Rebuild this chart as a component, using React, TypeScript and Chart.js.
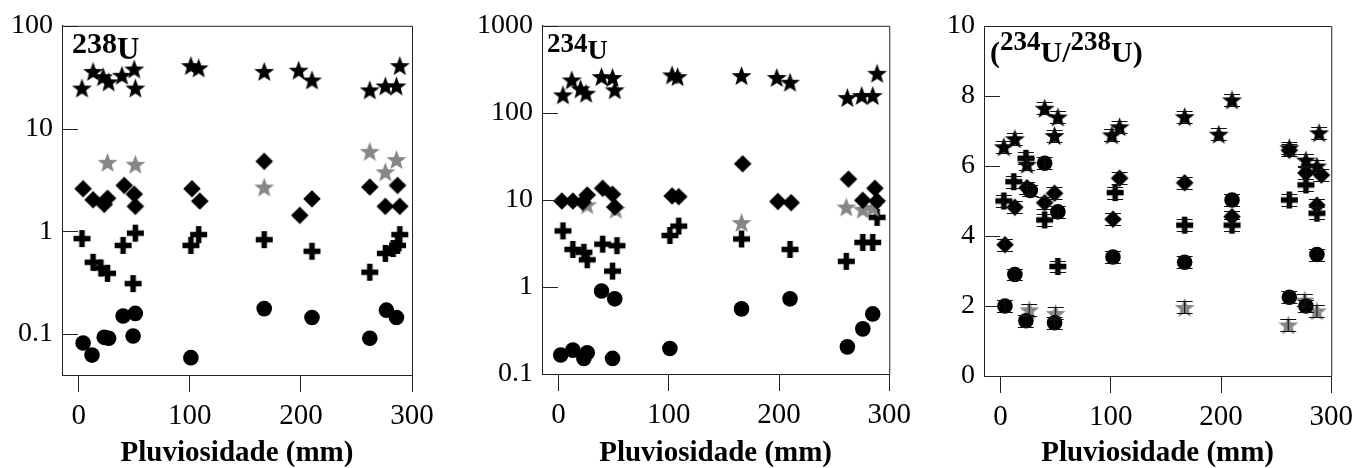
import React, { useEffect, useRef } from 'react';
import { Chart, registerables } from 'chart.js';
Chart.register(...registerables);

const FONT = '"Liberation Serif", "Times New Roman", Times, serif';
const H = 468;

// ---------- ticks ----------
const rainTicks = [0, 100, 200, 300];
const u238Ticks = [0.1, 1, 10, 100];
const u234Ticks = [0.1, 1, 10, 100, 1000];
const ratioTicks = [0, 2, 4, 6, 8, 10];
const xTitle = 'Pluviosidade (mm)';

// ---------- 238U ----------
const u238StarBlackX = [3, 13, 22, 27, 39, 50, 51, 101, 108, 167, 198, 210, 262, 276, 286, 289];
const u238StarBlackY = [24.8, 36, 32, 28.5, 33, 38, 24.8, 41, 39, 36, 37, 29.7, 23.8, 26, 26, 41];
const u238StarGrayX = [26, 51, 167, 262, 276, 286];
const u238StarGrayY = [4.7, 4.5, 2.7, 6.0, 3.8, 5.0];
const u238DiamondX = [4, 13, 23, 26, 41, 50, 51, 102, 109, 167, 199, 210, 262, 276, 287, 289];
const u238DiamondY = [2.6, 2.03, 1.83, 2.1, 2.8, 2.3, 1.75, 2.6, 1.97, 4.8, 1.43, 2.07, 2.7, 1.75, 2.8, 1.75];
const u238PlusX = [3, 13, 20, 26, 40, 49, 51, 101, 108, 167, 210, 262, 276, 283, 287, 289];
const u238PlusY = [0.85, 0.5, 0.44, 0.39, 0.73, 0.31, 0.96, 0.73, 0.93, 0.83, 0.64, 0.4, 0.61, 0.68, 0.73, 0.93];
const u238CircleX = [4, 12, 23, 27, 40, 49, 51, 101, 167, 210, 262, 277, 286];
const u238CircleY = [0.082, 0.0625, 0.093, 0.091, 0.15, 0.096, 0.159, 0.059, 0.177, 0.145, 0.091, 0.171, 0.145];

// ---------- 234U ----------
const u234StarBlackX = [4, 12, 20, 25, 39, 49, 51, 103, 108, 166, 198, 210, 262, 275, 285, 289];
const u234StarBlackY = [161, 239, 189, 168, 261, 255, 184, 273, 261, 268, 255, 225, 150, 158, 158, 285];
const u234StarGrayX = [26, 52, 166, 261, 276, 285];
const u234StarGrayY = [8.8, 7.8, 5.5, 8.3, 7.8, 8.2];
const u234DiamondX = [3, 13, 22, 26, 40, 49, 51, 103, 109, 167, 199, 211, 263, 276, 287, 289];
const u234DiamondY = [9.7, 9.7, 9.4, 11.4, 13.6, 11.6, 8.3, 11.1, 10.9, 26, 9.6, 9.3, 17.3, 9.9, 13.6, 9.7];
const u234PlusX = [4, 13, 23, 26, 40, 49, 53, 101, 109, 166, 210, 261, 276, 285, 289];
const u234PlusY = [4.4, 2.7, 2.5, 2.05, 3.1, 1.52, 2.98, 3.9, 5.0, 3.56, 2.7, 1.97, 3.25, 3.25, 6.3];
const u234CircleX = [2, 13, 23, 26, 39, 49, 51, 101, 166, 210, 262, 276, 285];
const u234CircleY = [0.165, 0.188, 0.151, 0.175, 0.9, 0.151, 0.73, 0.196, 0.56, 0.73, 0.205, 0.33, 0.49];

// ---------- (234U/238U) ----------
const ratioStarBlackX = [3, 13, 24, 40, 49, 52, 101, 108, 167, 198, 210, 262, 277, 287, 289];
const ratioStarBlackY = [6.55, 6.78, 6.05, 7.65, 6.87, 7.4, 6.89, 7.12, 7.41, 6.91, 7.89, 6.52, 6.17, 6.0, 6.95];
const ratioStarGrayX = [26, 50, 167, 261, 276, 287];
const ratioStarGrayY = [1.89, 1.79, 1.96, 1.46, 2.17, 1.86];
const ratioDiamondX = [4, 13, 24, 40, 49, 102, 108, 167, 210, 262, 277, 287, 291];
const ratioDiamondY = [3.75, 4.82, 5.38, 4.95, 5.22, 4.48, 5.65, 5.52, 4.55, 6.45, 5.8, 4.88, 5.74];
const ratioPlusX = [3, 12, 23, 40, 52, 104, 167, 210, 262, 277, 287];
const ratioPlusY = [5.0, 5.55, 6.22, 4.46, 3.13, 5.24, 4.31, 4.31, 5.03, 5.46, 4.65];
const ratioCircleX = [4, 13, 23, 27, 40, 49, 52, 102, 167, 210, 262, 277, 287];
const ratioCircleY = [2.0, 2.9, 1.58, 5.3, 6.08, 1.52, 4.69, 3.4, 3.25, 5.03, 2.25, 2.0, 3.47];
const ratioErr = 0.17;

// ---------- marker images ----------
type Kind = 'starBlack' | 'starGray' | 'diamond' | 'plus' | 'circle';

function makeStar(color: string, R: number, r: number) {
  const s = Math.ceil(R * 2) + 4;
  const c = document.createElement('canvas');
  c.width = s; c.height = s;
  const ctx = c.getContext('2d')!;
  ctx.fillStyle = color;
  ctx.beginPath();
  const cy = s / 2 + 0.095 * R;
  for (let i = 0; i < 10; i++) {
    const ang = -Math.PI / 2 + (i * Math.PI) / 5;
    const rad = i % 2 === 0 ? R : r;
    const px = s / 2 + rad * Math.cos(ang);
    const py = cy + rad * Math.sin(ang);
    if (i === 0) ctx.moveTo(px, py); else ctx.lineTo(px, py);
  }
  ctx.closePath();
  ctx.fill();
  return c;
}
function makeDiamond(h: number) {
  const s = Math.ceil(h * 2) + 2;
  const c = document.createElement('canvas');
  c.width = s; c.height = s;
  const ctx = c.getContext('2d')!;
  ctx.fillStyle = '#000';
  ctx.beginPath();
  ctx.moveTo(s / 2, s / 2 - h);
  ctx.lineTo(s / 2 + h, s / 2);
  ctx.lineTo(s / 2, s / 2 + h);
  ctx.lineTo(s / 2 - h, s / 2);
  ctx.closePath();
  ctx.fill();
  return c;
}
function makePlus(len: number, th: number) {
  const s = Math.ceil(len) + 2;
  const c = document.createElement('canvas');
  c.width = s; c.height = s;
  const ctx = c.getContext('2d')!;
  ctx.fillStyle = '#000';
  ctx.fillRect((s - th) / 2, (s - len) / 2, th, len);
  ctx.fillRect((s - len) / 2, (s - th) / 2, len, th);
  return c;
}

let markerCache: Record<string, HTMLCanvasElement> | null = null;
function markers() {
  if (!markerCache) {
    markerCache = {
      starBlack: makeStar('#000', 10.5, 4.4),
      starGray: makeStar('#878787', 10.5, 4.4),
      diamond: makeDiamond(8.8),
      plus: makePlus(17, 5.5),
    };
  }
  return markerCache;
}

type Series = { kind: Kind; x: number[]; y: number[] };
type LabelPart = { t: string; size: number; rise: number };
type PanelDef = {
  left: number; width: number;
  area: { l: number; r: number; t: number; b: number };
  yType: 'logarithmic' | 'linear';
  yMin: number; yMax: number; yTicks: number[];
  label: LabelPart[]; labelDx: number; labelBase: number;
  series: Series[];
  err?: number;
};

const panels: PanelDef[] = [
  {
    left: 0, width: 446, area: { l: 62, r: 412, t: 25, b: 375 },
    yType: 'logarithmic', yMin: 0.04, yMax: 100, yTicks: u238Ticks,
    label: [{ t: '238', size: 30, rise: 6 }, { t: 'U', size: 31, rise: 0 }], labelDx: 10, labelBase: 33,
    series: [
      { kind: 'starBlack', x: u238StarBlackX, y: u238StarBlackY },
      { kind: 'diamond', x: u238DiamondX, y: u238DiamondY },
      { kind: 'starGray', x: u238StarGrayX, y: u238StarGrayY },
      { kind: 'plus', x: u238PlusX, y: u238PlusY },
      { kind: 'circle', x: u238CircleX, y: u238CircleY },
    ],
  },
  {
    left: 446, width: 472, area: { l: 542, r: 893, t: 24, b: 374 },
    yType: 'logarithmic', yMin: 0.1, yMax: 1000, yTicks: u234Ticks,
    label: [{ t: '234', size: 27, rise: 7 }, { t: 'U', size: 28, rise: 0 }], labelDx: 5, labelBase: 33,
    series: [
      { kind: 'starBlack', x: u234StarBlackX, y: u234StarBlackY },
      { kind: 'diamond', x: u234DiamondX, y: u234DiamondY },
      { kind: 'starGray', x: u234StarGrayX, y: u234StarGrayY },
      { kind: 'plus', x: u234PlusX, y: u234PlusY },
      { kind: 'circle', x: u234CircleX, y: u234CircleY },
    ],
  },
  {
    left: 918, width: 442, area: { l: 984, r: 1335, t: 26, b: 376 },
    yType: 'linear', yMin: 0, yMax: 10, yTicks: ratioTicks,
    label: [
      { t: '(', size: 30, rise: 0 }, { t: '234', size: 27, rise: 12 }, { t: 'U/', size: 30, rise: 0 },
      { t: '238', size: 27, rise: 12 }, { t: 'U)', size: 30, rise: 0 },
    ],
    labelDx: 6, labelBase: 36,
    err: ratioErr,
    series: [
      { kind: 'starBlack', x: ratioStarBlackX, y: ratioStarBlackY },
      { kind: 'diamond', x: ratioDiamondX, y: ratioDiamondY },
      { kind: 'plus', x: ratioPlusX, y: ratioPlusY },
      { kind: 'circle', x: ratioCircleX, y: ratioCircleY },
      { kind: 'starGray', x: ratioStarGrayX, y: ratioStarGrayY },
    ],
  },
];

function Panel({ def }: { def: PanelDef }) {
  const ref = useRef<HTMLCanvasElement>(null);
  useEffect(() => {
    const m = markers();
    const yAxisWidth = def.area.l - def.left;
    const padRight = def.left + def.width - def.area.r;
    const xAxisHeight = H - def.area.b;

    const datasets = def.series.map((s) => ({
      label: s.kind,
      data: s.x.map((xv, i) => ({ x: xv, y: s.y[i] })),
      pointStyle: s.kind === 'circle' ? 'circle' : (m[s.kind] as any),
      pointRadius: s.kind === 'circle' ? 7.8 : 9,
      backgroundColor: '#000',
      borderColor: '#000',
      borderWidth: 0,
      showLine: false,
    }));

    const framePlugin = {
      id: 'frame',
      afterDatasetsDraw(chart: any) {
        const { ctx, scales } = chart;
        if (!def.err) return;
        ctx.save();
        ctx.strokeStyle = '#111';
        ctx.lineWidth = 1.1;
        chart.data.datasets.forEach((ds: any) => {
          ds.data.forEach((p: any) => {
            const px = scales.x.getPixelForValue(p.x);
            const y1 = Math.round(scales.y.getPixelForValue(p.y + def.err!)) + 0.5;
            const y2 = Math.round(scales.y.getPixelForValue(p.y - def.err!)) + 0.5;
            ctx.beginPath();
            ctx.moveTo(px, y1); ctx.lineTo(px, y2);
            ctx.moveTo(px - 8, y1); ctx.lineTo(px + 8, y1);
            ctx.moveTo(px - 8, y2); ctx.lineTo(px + 8, y2);
            ctx.stroke();
          });
        });
        ctx.restore();
      },
      afterDraw(chart: any) {
        const { ctx, chartArea: a, scales } = chart;
        ctx.save();
        ctx.strokeStyle = '#222';
        ctx.lineWidth = 1;
        ctx.beginPath();
        ctx.moveTo(a.left, a.top + 0.5);
        ctx.lineTo(a.right + 0.5, a.top + 0.5);
        ctx.lineTo(a.right + 0.5, a.bottom);
        ctx.stroke();
        // inward y ticks
        ctx.beginPath();
        scales.y.ticks.forEach((t: any) => {
          const py = Math.round(scales.y.getPixelForValue(t.value)) + 0.5;
          ctx.moveTo(a.left, py);
          ctx.lineTo(a.left + 16, py);
        });
        ctx.stroke();
        // panel label
        ctx.fillStyle = '#000';
        ctx.textBaseline = 'alphabetic';
        ctx.textAlign = 'left';
        let x = a.left + def.labelDx;
        const base = a.top + def.labelBase;
        def.label.forEach((p) => {
          ctx.font = `bold ${p.size}px ${FONT}`;
          ctx.fillText(p.t, x, base - p.rise);
          x += ctx.measureText(p.t).width;
        });
        ctx.restore();
      },
    };

    const chart = new Chart(ref.current!, {
      type: 'scatter',
      data: { datasets },
      options: {
        responsive: false,
        animation: false,
        devicePixelRatio: 1,
        events: [],
        layout: { padding: { left: 0, right: padRight, top: def.area.t, bottom: 0 } },
        plugins: { legend: { display: false }, tooltip: { enabled: false } },
        scales: {
          x: {
            type: 'linear',
            min: -15,
            max: 300,
            afterBuildTicks: (s: any) => { s.ticks = rainTicks.map((v) => ({ value: v })); },
            afterFit: (s: any) => { s.height = xAxisHeight; },
            grid: { display: true, drawOnChartArea: false, drawTicks: true, tickLength: 17, color: '#222', lineWidth: 1 },
            border: { display: true, color: '#222', width: 1 },
            ticks: { font: { family: FONT, size: 29 }, color: '#000', padding: 7, maxRotation: 0, autoSkip: false, callback: (v: any) => String(v) },
            title: { display: true, text: xTitle, color: '#000', font: { family: FONT, size: 29, weight: 'bold', lineHeight: 1 }, padding: { top: 0, bottom: 0 } },
          },
          y: {
            type: def.yType,
            min: def.yMin,
            max: def.yMax,
            afterBuildTicks: (s: any) => { s.ticks = def.yTicks.map((v) => ({ value: v })); },
            afterFit: (s: any) => { s.width = yAxisWidth; },
            grid: { display: false, drawTicks: false },
            border: { display: true, color: '#222', width: 1 },
            ticks: { font: { family: FONT, size: 28 }, color: '#000', padding: 9, autoSkip: false, callback: (v: any) => String(v) },
          },
        } as any,
      },
      plugins: [framePlugin],
    } as any);
    return () => chart.destroy();
  }, []);
  return (
    <canvas
      ref={ref}
      width={def.width}
      height={H}
      style={{ position: 'absolute', left: def.left, top: 0, width: def.width, height: H }}
    />
  );
}

export default function App() {
  return (
    <div style={{ position: 'absolute', left: 0, top: 0, width: 1360, height: H, background: '#fff', overflow: 'hidden' }}>
      {panels.map((p, i) => (
        <Panel key={i} def={p} />
      ))}
    </div>
  );
}
